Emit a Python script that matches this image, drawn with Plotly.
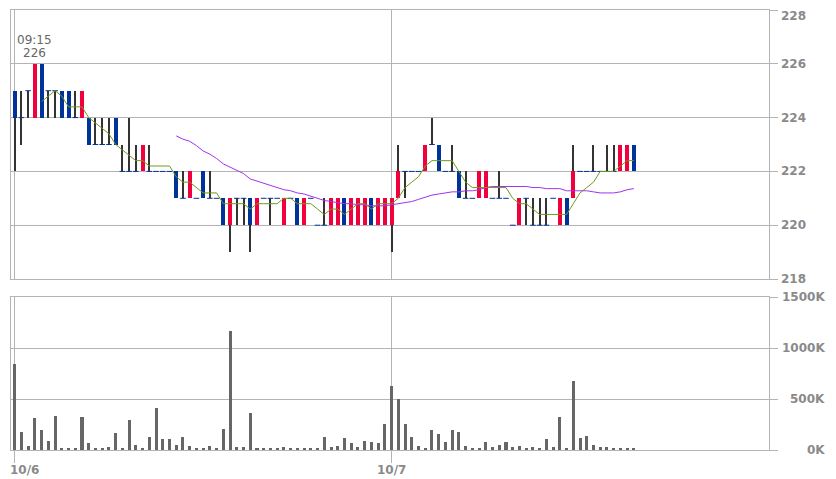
import plotly.graph_objects as go
import pandas as pd

# ---- data (5-minute bars, two sessions) ----
opens  = [225,224,225,224,226,225,225,225,225,224,224,224,223,223,223,224,222,222,222,222,
          222,222,222,222,222,221,221,221,222,221,221,221,220,221,221,221,220,221,221,221,
          220,221,221,220,221,220,220,220,220,221,220,220,220,221,220,220,220,221,222,222,
          222,222,223,223,222,222,222,221,221,221,221,221,221,221,220,220,221,220,220,220,
          221,220,221,221,222,222,222,222,222,222,222,222,223]
highs  = [225,225,225,226,226,225,225,225,225,225,225,224,224,224,224,224,223,224,223,223,
          223,222,222,222,222,222,222,221,222,222,221,221,221,221,221,221,221,221,221,221,
          221,221,221,221,221,220,221,221,221,221,221,221,221,221,221,221,221,223,222,222,
          222,223,224,223,222,223,222,222,221,222,222,221,222,221,220,221,221,221,221,221,
          221,221,221,223,222,222,223,222,223,223,223,223,223]
lows   = [222,223,224,224,224,224,224,224,224,224,224,223,223,223,223,223,222,222,222,222,
          222,222,222,222,221,221,221,221,221,221,221,220,219,220,220,219,220,221,220,221,
          220,221,220,220,221,220,220,220,220,220,220,220,220,220,220,220,219,221,221,222,
          222,222,223,222,222,222,221,221,221,221,221,221,221,221,220,220,220,220,220,220,
          221,220,220,221,222,222,222,222,222,222,222,222,222]
closes = [224,224,225,226,224,225,225,224,224,224,225,223,223,223,223,223,222,222,222,223,
          222,222,222,222,221,221,222,221,221,221,221,220,221,221,221,220,221,221,221,221,
          221,221,220,221,221,220,220,221,221,220,221,221,221,220,221,221,221,222,222,222,
          222,223,223,222,222,222,221,221,221,222,222,221,221,221,220,221,221,220,220,220,
          221,221,220,222,222,222,222,222,222,222,223,223,222]
volumes_k = [848,179,39,310,196,91,333,16,16,16,320,65,16,16,26,163,16,293,49,16,
             127,408,104,104,49,127,39,16,16,39,16,202,1170,26,26,359,16,16,16,16,
             26,16,16,16,16,16,127,26,39,114,65,26,91,75,65,254,626,502,254,127,
             39,16,196,153,75,196,179,39,16,16,75,26,49,75,26,39,16,26,16,104,
             26,320,16,678,114,140,49,26,26,16,16,16,16]

day_labels = ["10/6", "10/7"]
day_start_idx = [0, 56]
high_time_label = "09:15"
price_ticks = [218, 220, 222, 224, 226, 228]
vol_ticks = [0, 500, 1000, 1500]
vol_tick_labels = ["0K", "500K", "1000K", "1500K"]

# ---- derived ----
n = len(closes)
xs = list(range(n))
ma5 = pd.Series(closes).rolling(5).mean()
ma25 = pd.Series(closes).rolling(25).mean()

RED = "#f0003c"
BLUE = "#003399"
GRID = "#b4b4b4"
LBL = "#8a8a8a"
LBLFONT = dict(family="DejaVu Sans", size=12, color=LBL, weight="bold")

up_x = [i for i in xs if closes[i] > opens[i]]
dn_x = [i for i in xs if closes[i] < opens[i]]
dj_x = [i for i in xs if closes[i] == opens[i]]

fig = go.Figure()

# wicks
fig.add_trace(go.Bar(x=xs, y=[highs[i] - lows[i] for i in xs], base=lows,
                     width=0.15, marker=dict(color="#333333", line=dict(width=0)),
                     xaxis="x", yaxis="y", hoverinfo="skip"))
# up bodies
fig.add_trace(go.Bar(x=up_x, y=[closes[i] - opens[i] for i in up_x], base=[opens[i] for i in up_x],
                     width=0.6, marker=dict(color=RED, line=dict(width=0)),
                     xaxis="x", yaxis="y"))
# down bodies
fig.add_trace(go.Bar(x=dn_x, y=[opens[i] - closes[i] for i in dn_x], base=[closes[i] for i in dn_x],
                     width=0.6, marker=dict(color=BLUE, line=dict(width=0)),
                     xaxis="x", yaxis="y"))
# doji dashes
fig.add_trace(go.Scatter(x=dj_x, y=[closes[i] for i in dj_x], mode="markers",
                         marker=dict(symbol="line-ew", size=4, line=dict(color=BLUE, width=1)),
                         xaxis="x", yaxis="y"))
# moving averages
fig.add_trace(go.Scatter(x=xs, y=ma25, mode="lines", line=dict(color="#a033ee", width=1),
                         xaxis="x", yaxis="y"))
fig.add_trace(go.Scatter(x=xs, y=ma5, mode="lines", line=dict(color="#6f9a1e", width=1),
                         xaxis="x", yaxis="y"))
# volume
fig.add_trace(go.Bar(x=xs, y=volumes_k, width=0.45, marker=dict(color="#666666", line=dict(width=0)),
                     xaxis="x2", yaxis="y2"))

xr = [-0.55, 112.08]
common_x = dict(range=xr, tickmode="array", tickvals=day_start_idx, showgrid=True,
                gridcolor=GRID, gridwidth=1, zeroline=False, showline=True, mirror=True,
                linecolor=GRID, linewidth=1, automargin=False)
fig.update_layout(
    width=828, height=471,
    margin=dict(l=3, r=67, t=2, b=29, autoexpand=False),
    paper_bgcolor="white", plot_bgcolor="white",
    showlegend=False, barmode="overlay", bargap=0,
    xaxis=dict(**common_x, anchor="y", showticklabels=False, ticks=""),
    xaxis2=dict(**common_x, anchor="y2", matches="x", showticklabels=False, ticks="outside",
                ticklen=12, tickcolor=GRID),
    yaxis=dict(domain=[0.3886, 1], range=[218, 228], side="right", tickvals=price_ticks,
               showticklabels=False,
               showgrid=True, gridcolor=GRID, zeroline=False, showline=True, mirror=True,
               linecolor=GRID, ticks="outside", ticklen=8, tickcolor=GRID, automargin=False),
    yaxis2=dict(domain=[0, 0.3477], range=[0, 1500], side="right", tickvals=vol_ticks,
                showticklabels=False, showgrid=True, gridcolor=GRID, zeroline=False,
                showline=True, mirror=True, linecolor=GRID, ticks="outside", ticklen=8,
                tickcolor=GRID, automargin=False),
)

# price axis labels (left aligned after the tick marks)
top_price = max(price_ticks)
for p in price_ticks:
    is_top = (p == top_price)
    fig.add_annotation(x=1.0, xref="paper", xanchor="left", xshift=10,
                       y=p, yref="y", yanchor="top" if is_top else "middle",
                       yshift=3 if is_top else 0,
                       text=str(p), showarrow=False, font=LBLFONT)

# volume axis labels (right aligned)
for v, t in zip(vol_ticks, vol_tick_labels):
    fig.add_annotation(x=1.0, xref="paper", xanchor="right", xshift=58,
                       y=v, yref="y2", text=t, showarrow=False, font=LBLFONT)

# day labels under the volume panel
for k, (pos, lab) in enumerate(zip(day_start_idx, day_labels)):
    first = (k == 0)
    fig.add_annotation(x=pos, xref="x2", y=0, yref="paper", yanchor="middle", yshift=-20,
                       xanchor="left" if first else "center", xshift=-7 if first else 0,
                       text=lab, showarrow=False, font=LBLFONT)

# high-price marker text
hi = max(range(n), key=lambda i: (highs[i], -i))
fig.add_annotation(x=hi, y=highs[hi], xref="x", yref="y", text=str(highs[hi]),
                   showarrow=False, yanchor="bottom", yshift=2,
                   font=dict(family="DejaVu Sans", size=12, color="#666666"))
fig.add_annotation(x=hi, y=highs[hi], xref="x", yref="y", text=high_time_label,
                   showarrow=False, yanchor="bottom", yshift=15,
                   font=dict(family="DejaVu Sans", size=12, color="#666666"))

fig.write_html("out.html")
